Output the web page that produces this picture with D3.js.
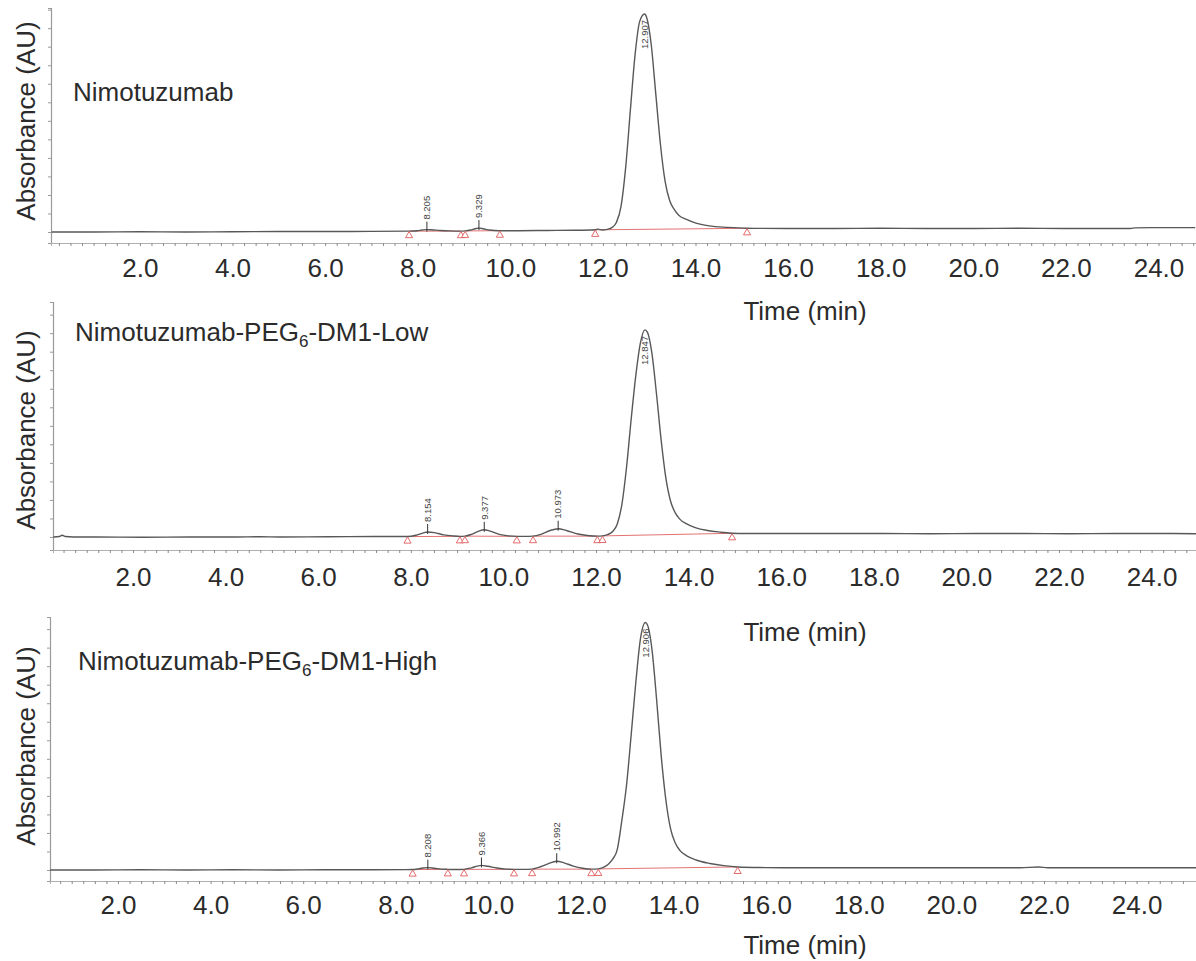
<!DOCTYPE html>
<html>
<head>
<meta charset="utf-8">
<script src="https://cdn.jsdelivr.net/npm/d3@7"></script>
<style>
  html, body { margin: 0; padding: 0; background: #fff; }
  svg { display: block; font-family: "Liberation Sans", Arial, sans-serif; }
</style>
</head>
<body>
<svg id="chart" width="1196" height="961"></svg>
<script>
// ---- Chromatogram traces (time in min, absorbance in mAU) ----
const nimoTime = [0.1, 1, 2, 3, 4, 5, 6, 7, 7.82, 8.0, 8.1, 8.205, 8.3, 8.5, 8.7, 8.94, 9.03, 9.15, 9.25, 9.329, 9.42, 9.55, 9.78,
  10.2, 10.8, 11.4, 11.75, 11.84, 11.9, 12.0, 12.1, 12.2, 12.3, 12.4, 12.5, 12.6, 12.7, 12.8, 12.907, 12.95, 13.05, 13.15, 13.25,
  13.35, 13.45, 13.55, 13.65, 13.8, 14.0, 14.3, 14.7, 15.12, 16, 17, 18, 19, 20, 21, 22, 23, 23.4, 23.5, 24, 24.8];
const nimoAbs = [0, 0, 1, 0, 1, 2, 2, 3, 4, 6, 9, 11, 10, 7, 5, 4, 5, 9, 15, 18, 15, 9, 6,
  6, 7, 8, 9, 10, 13, 9, 12, 20, 45, 120, 300, 560, 810, 965, 1000, 985, 860, 630, 400,
  232, 143, 103, 76, 59, 42, 28, 21, 17, 16, 16, 17, 16, 16, 17, 16, 16, 16, 19, 20, 20];

const lowTime = [0.07, 0.2, 0.26, 0.33, 0.5, 1, 2, 3, 4, 4.5, 5, 6, 7, 7.72, 7.9, 8.05, 8.154, 8.3, 8.5, 8.7, 8.85, 8.96, 9.1, 9.25,
  9.377, 9.5, 9.7, 9.9, 10.08, 10.25, 10.43, 10.6, 10.8, 10.973, 11.15, 11.4, 11.6, 11.82, 11.93, 12.05, 12.15, 12.25, 12.35,
  12.45, 12.55, 12.65, 12.75, 12.847, 12.9, 13.0, 13.1, 13.2, 13.3, 13.4, 13.5, 13.6, 13.75, 13.95, 14.2, 14.5, 14.73, 15, 16,
  17, 18, 19, 20, 21, 22, 23, 24, 24.8];
const lowAbs = [0, 2, 8, 2, 0, 0, -1, 0, 0, 1, 0, 1, 2, 2, 8, 18, 23, 20, 10, 5, 3, 4, 12, 26,
  33, 27, 12, 5, 3, 3, 4, 12, 30, 38, 30, 14, 7, 4, 5, 12, 25, 60, 150,
  320, 540, 740, 890, 950, 940, 840, 650, 440, 270, 165, 112, 82, 60, 42, 30, 22, 17, 16, 16,
  16, 16, 15, 16, 16, 15, 16, 16, 15];

const highTime = [0.05, 1, 2, 3, 4, 5, 6, 7, 7.88, 8.0, 8.1, 8.208, 8.35, 8.5, 8.64, 8.8, 8.99, 9.15, 9.28, 9.366, 9.5, 9.7, 9.9,
  10.07, 10.25, 10.46, 10.6, 10.8, 10.992, 11.15, 11.35, 11.55, 11.74, 11.89, 12.0, 12.1, 12.2, 12.3, 12.4, 12.5, 12.6, 12.7,
  12.8, 12.906, 12.95, 13.05, 13.15, 13.25, 13.35, 13.45, 13.55, 13.65, 13.8, 14.0, 14.3, 14.6, 14.9, 15.5, 16, 17, 18, 19, 20,
  21, 21.4, 21.6, 22, 23, 24, 24.85];
const highAbs = [0, 0, 1, 0, 1, 0, 1, 1, 2, 5, 9, 11, 8, 4, 3, 2, 3, 10, 18, 21, 17, 9, 4,
  3, 3, 4, 12, 28, 40, 33, 18, 8, 4, 5, 12, 25, 50, 95, 230, 390, 620, 860,
  1060, 1135, 1125, 1010, 780, 520, 320, 190, 125, 90, 65, 46, 30, 20, 14, 11, 10, 10, 10, 10, 10,
  10, 14, 10, 10, 10, 10, 10];

// ---- Labelled peaks (retention times) ----
const nimoPeaks = [8.205, 9.329, 12.907];
const lowPeaks = [8.154, 9.377, 10.973, 12.847];
const highPeaks = [8.208, 9.366, 10.992, 12.906];

// ---- Integration windows [start, end] ----
const nimoWindows = [[7.82, 8.94], [9.03, 9.78], [11.84, 15.12]];
const lowWindows = [[7.72, 8.85], [8.96, 10.08], [10.43, 11.82], [11.93, 14.73]];
const highWindows = [[7.88, 8.64], [8.99, 10.07], [10.46, 11.74], [11.89, 14.9]];

// ---- Sample names ----
const sampleNames = ["Nimotuzumab", "Nimotuzumab-PEG6-DM1-Low", "Nimotuzumab-PEG6-DM1-High"];

// ---- Time axis ----
const tickTimes = [2, 4, 6, 8, 10, 12, 14, 16, 18, 20, 22, 24];
const tickLabels = ["2.0", "4.0", "6.0", "8.0", "10.0", "12.0", "14.0", "16.0", "18.0", "20.0", "22.0", "24.0"];
const axisTitleX = "Time (min)";
const axisTitleY = "Absorbance (AU)";

// ---- Panel layout ----
const W = 1196;
const PX_PER_MIN = 46.3;
const PX_PER_MAU = 0.218;
const panels = [
  { name: sampleNames[0], time: nimoTime, abs: nimoAbs, peaks: nimoPeaks, windows: nimoWindows,
    left: 51, top: 8, axisY: 243, baseY: 232, dataX0: 47.0, axisX0: 47.3,
    titleX: 73, titleY: 101, absY: 121, tickY: 277, timeY: 320 },
  { name: sampleNames[1], time: lowTime, abs: lowAbs, peaks: lowPeaks, windows: lowWindows,
    left: 53, top: 302, axisY: 550, baseY: 537, dataX0: 50.1, axisX0: 40.4,
    titleX: 75, titleY: 341, absY: 430, tickY: 586, timeY: 641 },
  { name: sampleNames[2], time: highTime, abs: highAbs, peaks: highPeaks, windows: highWindows,
    left: 50, top: 617, axisY: 881, baseY: 870, dataX0: 47.8, axisX0: 25.4,
    titleX: 78, titleY: 670, absY: 746, tickY: 914, timeY: 954 }
];

const svg = d3.select("#chart");
const TXT = "#2b2b2b";
const TRACE = "#585858";
const RED = "#e05a5a";

function valueAt(times, vals, t) {
  let best = 0;
  for (let i = 1; i < times.length; i++) {
    if (Math.abs(times[i] - t) < Math.abs(times[best] - t)) best = i;
  }
  return vals[best];
}

panels.forEach((p, pi) => {
  const g = svg.append("g");

  // scales: data time scale, and the printed time axis of this trace
  const t0 = (p.left - p.dataX0) / PX_PER_MIN;
  const t1 = (W - p.dataX0) / PX_PER_MIN;
  const x = d3.scaleLinear().domain([t0, t1]).range([p.left, W]);
  const shift = (p.dataX0 - p.axisX0) / PX_PER_MIN;
  const xAxisScale = x.copy().domain([t0 + shift, t1 + shift]);

  const vBottom = -(p.axisY - p.baseY) / PX_PER_MAU;
  const vTop = (p.baseY - p.top) / PX_PER_MAU;
  const y = d3.scaleLinear().domain([vBottom, vTop]).range([p.axisY, p.top]);

  const clipId = "clip" + pi;
  svg.append("clipPath").attr("id", clipId)
    .append("rect").attr("x", p.left).attr("y", p.top - 2)
    .attr("width", W - p.left).attr("height", p.axisY - p.top + 2);

  // y axis with minor ticks
  const yTicks = d3.range(0, vTop, 85).concat(d3.range(-85, vBottom, -85));
  const yAxis = d3.axisLeft(y).tickValues(yTicks).tickSize(3).tickFormat("");
  const ya = g.append("g").attr("transform", `translate(${p.left},0)`).call(yAxis);
  ya.select(".domain").attr("stroke", "#9a9a9a").attr("stroke-width", 1.2);
  ya.selectAll(".tick line").attr("stroke", "#9a9a9a");

  // x axis: minor ticks every 0.25 min, labels every 2 min
  const minorTicks = d3.range(0, 25.01, 0.25).filter(v => xAxisScale(v) >= p.left && xAxisScale(v) <= W);
  const xMinor = d3.axisBottom(xAxisScale).tickValues(minorTicks).tickSize(3).tickFormat("");
  const xa = g.append("g").attr("transform", `translate(0,${p.axisY})`).call(xMinor);
  xa.select(".domain").attr("stroke", "#b0b0b0").attr("stroke-width", 1);
  xa.selectAll(".tick line").attr("stroke", "#8a8a8a");

  const xLab = d3.axisBottom(xAxisScale).tickValues(tickTimes).tickSize(0)
    .tickFormat((d, i) => tickLabels[i]);
  const xl = g.append("g").call(xLab);
  xl.select(".domain").remove();
  xl.selectAll(".tick text")
    .attr("y", p.tickY).attr("dy", 0)
    .attr("fill", TXT).attr("font-size", 26)
    .attr("font-family", '"Liberation Sans", Arial, sans-serif');

  // axis titles
  g.append("text").attr("x", 805).attr("y", p.timeY)
    .attr("text-anchor", "middle").attr("font-size", 26).attr("fill", TXT)
    .text(axisTitleX);
  g.append("text").attr("transform", `translate(35,${p.absY}) rotate(-90)`)
    .attr("text-anchor", "middle").attr("font-size", 26).attr("fill", TXT)
    .text(axisTitleY);

  // sample title (PEG subscript)
  const title = g.append("text").attr("x", p.titleX).attr("y", p.titleY)
    .attr("font-size", 26).attr("fill", TXT);
  const m = p.name.match(/^(.*PEG)(\d)(.*)$/);
  if (m) {
    title.append("tspan").text(m[1]);
    title.append("tspan").attr("font-size", 17).attr("dy", 6).text(m[2]);
    title.append("tspan").attr("dy", -6).text(m[3]);
  } else {
    title.text(p.name);
  }

  const plot = g.append("g").attr("clip-path", `url(#${clipId})`);
  const pts = p.time.map((t, i) => [t, p.abs[i]]);

  // integration baselines
  p.windows.forEach(([a, b]) => {
    plot.append("line")
      .attr("x1", x(a)).attr("y1", y(valueAt(p.time, p.abs, a)))
      .attr("x2", x(b)).attr("y2", y(valueAt(p.time, p.abs, b)))
      .attr("stroke", RED).attr("stroke-width", 1).attr("opacity", 0.85);
  });

  // trace
  const line = d3.line().x(d => x(d[0])).y(d => y(d[1])).curve(d3.curveMonotoneX);
  plot.append("path").datum(pts)
    .attr("d", line).attr("fill", "none")
    .attr("stroke", TRACE).attr("stroke-width", 1.4).attr("stroke-linejoin", "round");

  // start/end markers
  const tri = d3.symbol().type(d3.symbolTriangle).size(22);
  p.windows.flat().forEach(t => {
    plot.append("path").attr("d", tri)
      .attr("transform", `translate(${x(t)},${y(valueAt(p.time, p.abs, t)) + 4.5})`)
      .attr("fill", "#fff").attr("stroke", RED).attr("stroke-width", 0.9);
  });

  // peak labels
  const maxPeak = d3.max(p.peaks, t => valueAt(p.time, p.abs, t));
  p.peaks.forEach(t => {
    const v = valueAt(p.time, p.abs, t);
    const px = x(t), py = y(v);
    if (v === maxPeak) {
      plot.append("text")
        .attr("transform", `translate(${px},${py + 6}) rotate(-90)`)
        .attr("text-anchor", "end").attr("dy", "0.35em")
        .attr("font-size", 9.5).attr("fill", "#444")
        .text(t.toFixed(3));
    } else {
      plot.append("line").attr("x1", px).attr("x2", px)
        .attr("y1", py + 2).attr("y2", py - 8)
        .attr("stroke", "#333").attr("stroke-width", 1);
      plot.append("text")
        .attr("transform", `translate(${px},${py - 10}) rotate(-90)`)
        .attr("text-anchor", "start").attr("dy", "0.35em")
        .attr("font-size", 9.5).attr("fill", "#444")
        .text(t.toFixed(3));
    }
  });
});
</script>
</body>
</html>
